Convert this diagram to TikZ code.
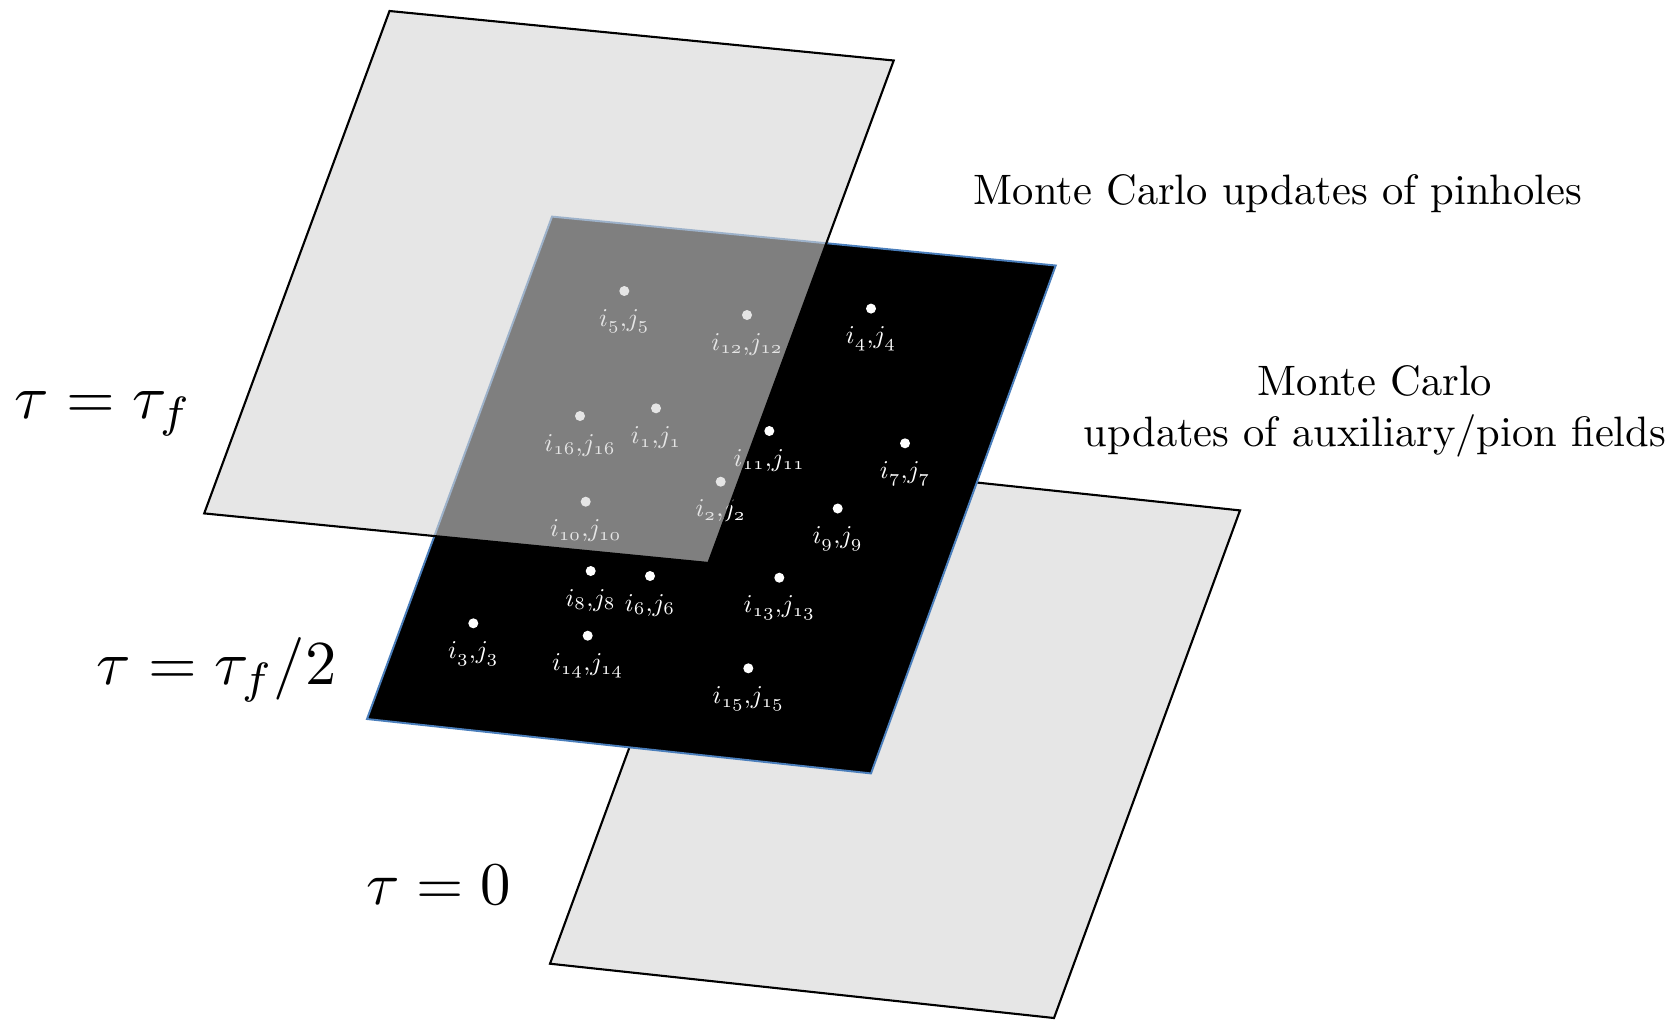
\documentclass[tikz,border=0pt]{standalone}
\usetikzlibrary{calc}
\definecolor{planegray}{RGB}{230,230,230}
\definecolor{overlaygray}{RGB}{213,213,213}
\definecolor{edgeblue}{RGB}{74,126,187}
\begin{document}
\begin{tikzpicture}[x=0.01cm,y=-0.01cm,
  plane/.style={fill=planegray,draw=black,line width=0.6pt,line join=miter},
  midplane/.style={fill=black,draw=edgeblue,line width=0.55pt},
  topplane/.style={fill=overlaygray,fill opacity=0.6,draw=black,line width=0.6pt},
  dot/.style={circle,fill=white,inner sep=0pt,minimum size=0.1cm},
  lab/.style={text=white,anchor=base,inner sep=0pt,scale=0.73},
  taulab/.style={anchor=base west,inner sep=0pt,scale=1.78},
  mctext/.style={inner sep=0pt,scale=1.21}]
\useasboundingbox (0,0) rectangle (1671,1021);
% bottom plane (tau = 0)
\coordinate (b1) at (736,457);
\coordinate (b2) at (1240,510.4);
\coordinate (b3) at (1054,1018);
\coordinate (b4) at (550,963.7);
\filldraw[plane] (b1) -- (b2) -- (b3) -- (b4) -- cycle;
% middle plane (tau = tau_f/2)
\coordinate (m1) at (552,216.6);
\coordinate (m2) at (1055.7,265.5);
\coordinate (m3) at (871,773.4);
\coordinate (m4) at (367,719);
\filldraw[midplane] (m1) -- (m2) -- (m3) -- (m4) -- cycle;
% pinholes
\foreach \n/\x/\y in {5/624.3/291, 12/747/315, 4/871/308.6, 16/580/416, 1/656/408.3,
  11/769.3/431, 7/905/443.3, 2/720.7/481.7, 10/585.7/501.7, 9/837.7/508.5,
  8/590.7/571, 6/650/576, 13/779.3/577.7, 3/473.3/623.3, 14/587.7/635.7, 15/748.3/668.3}{
  \node[dot] (d\n) at (\x,\y) {};
  \node[lab] (l\n) at ($(d\n)+(0,35)$) {$i_{\mathnormal{\n}}{,}j_{\mathnormal{\n}}$};
}
% top plane (tau = tau_f), semi-transparent
\coordinate (t1) at (389.5,11);
\coordinate (t2) at (893.7,60.5);
\coordinate (t3) at (708.4,563);
\coordinate (t4) at (204.2,513.4);
\filldraw[topplane] (t1) -- (t2) -- (t3) -- (t4) -- cycle;
% labels
\node[taulab] (tauf) at (13,418) {$\tau = \tau_f$};
\node[taulab] (tauh) at (95,684) {$\tau = \tau_f/2$};
\node[taulab,scale=0.97] (tau0) at (365,904) {$\tau = 0$};
\node[mctext,anchor=base] (mc1) at (1278,204) {Monte Carlo updates of pinholes};
\node[mctext,align=center] (mc2) at (1375,411) {Monte Carlo\\updates of auxiliary/pion fields};
\end{tikzpicture}
\end{document}
